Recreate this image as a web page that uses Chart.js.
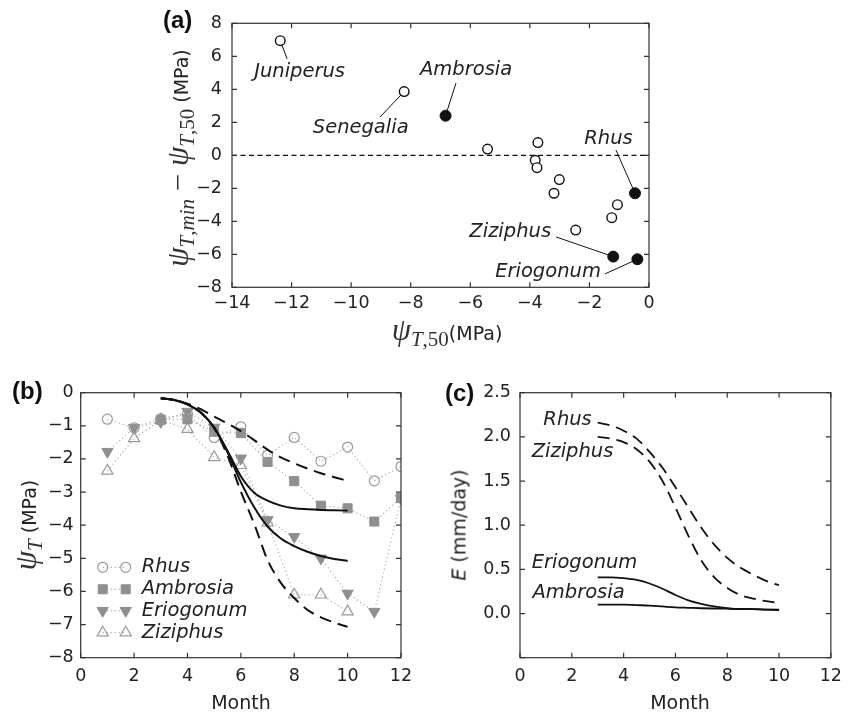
<!DOCTYPE html>
<html><head><meta charset="utf-8">
<script src="https://cdn.jsdelivr.net/npm/chart.js@4.4.1/dist/chart.umd.min.js"></script>
<style>
html,body{margin:0;padding:0;background:#fff;}
#wrap{position:relative;width:850px;height:713px;overflow:hidden;background:#fff;}
canvas{position:absolute;left:0;top:0;}
.t{position:absolute;white-space:nowrap;font-family:"DejaVu Sans";color:#222;font-size:19px;line-height:1;}
.rot{transform:translate(-50%,-50%) rotate(-90deg);}
.ctr{transform:translate(-50%,-50%);}
.m{font-family:"Liberation Serif";font-style:normal;font-size:31px;color:#333;}
.m i{font-style:italic;}
.m sub{font-size:21px;vertical-align:-0.3em;line-height:0;}
.pl{position:absolute;font-family:"Liberation Sans";font-weight:bold;font-size:24px;color:#111;line-height:1;transform:translateY(-50%);}
</style>
</head><body>
<div id="wrap">
<canvas id="ca" width="850" height="713"></canvas>
<canvas id="cb" width="850" height="713"></canvas>
<canvas id="cc" width="850" height="713"></canvas>

<div class="pl" style="left:163px;top:20px;">(a)</div>
<div class="pl" style="left:12px;top:391px;">(b)</div>
<div class="pl" style="left:445px;top:393px;">(c)</div>

<div class="t rot" style="left:177px;top:158px;"><span class="m"><i>ψ</i><sub><i>T</i>,<i>min</i></sub> − <i>ψ</i><sub><i>T</i>,50</sub></span> (MPa)</div>
<div class="t ctr" style="left:447px;top:329px;"><span class="m"><i>ψ</i><sub><i>T</i>,50</sub></span>(MPa)</div>
<div class="t rot" style="left:25px;top:525px;"><span class="m"><i>ψ</i><sub><i>T</i></sub></span> (MPa)</div>
<div class="t rot" style="left:459px;top:525px;"><i>E</i> (mm/day)</div>
<div class="t ctr" style="left:241px;top:702px;">Month</div>
<div class="t ctr" style="left:680px;top:702px;">Month</div>
</div>

<script>
// ---------------- Panel (a) data ----------------
const aOpenNames = ['Juniperus','Senegalia','','','','','','','','',''];
const aOpenX = [-12.38,-8.22,-5.42,-3.73,-3.82,-3.76,-3.01,-3.19,-1.06,-1.25,-2.46];
const aOpenY = [6.95,3.86,0.38,0.77,-0.30,-0.75,-1.47,-2.30,-2.99,-3.78,-4.53];
const aFilledNames = ['Ambrosia','Rhus','Ziziphus','Eriogonum'];
const aFilledX = [-6.83,-0.47,-1.20,-0.39];
const aFilledY = [2.40,-2.30,-6.14,-6.30];
const aXTicks = [-14,-12,-10,-8,-6,-4,-2,0];
const aYTicks = [-8,-6,-4,-2,0,2,4,6,8];

// ---------------- Panel (b) data ----------------
const months = [1,2,3,4,5,6,7,8,9,10,11,12];
const psiRhus      = [-0.80,-1.06,-0.78,-0.65,-1.35,-1.03,-1.89,-1.35,-2.07,-1.64,-2.66,-2.23];
const psiAmbrosia  = [null,null,-0.82,-0.80,-1.18,-1.22,-2.09,-2.67,-3.41,-3.49,-3.89,-3.18];
const psiEriogonum = [-1.78,-1.06,-0.88,-0.57,-1.05,-1.98,-3.84,-4.35,-5.00,-6.06,-6.61,-3.20];
const psiZiziphus  = [-2.36,-1.38,-0.82,-1.10,-1.95,-2.19,-3.92,-6.10,-6.10,-6.61,null,null];
const modelMonths = [3,3.5,4,4.5,5,5.5,6,6.5,7,7.5,8,8.5,9,9.5,10];
const psiModelRhus      = [-0.17,-0.22,-0.33,-0.50,-0.72,-0.93,-1.16,-1.43,-1.72,-1.95,-2.13,-2.29,-2.43,-2.55,-2.66];
const psiModelAmbrosia  = [-0.17,-0.22,-0.35,-0.60,-1.05,-1.75,-2.52,-3.02,-3.26,-3.41,-3.49,-3.52,-3.54,-3.55,-3.56];
const psiModelEriogonum = [-0.17,-0.22,-0.35,-0.60,-1.05,-1.80,-2.70,-3.46,-4.04,-4.40,-4.63,-4.80,-4.93,-5.02,-5.08];
const psiModelZiziphus  = [-0.17,-0.22,-0.35,-0.60,-1.07,-1.90,-2.98,-3.96,-5.05,-5.74,-6.20,-6.56,-6.78,-6.94,-7.07];
const bXTicks = [0,2,4,6,8,10,12];
const bYTicks = [-8,-7,-6,-5,-4,-3,-2,-1,0];

// ---------------- Panel (c) data ----------------
const eRhus      = [2.16,2.13,2.07,1.98,1.83,1.65,1.43,1.20,0.97,0.78,0.63,0.52,0.44,0.37,0.32];
const eZiziphus  = [2.00,1.98,1.94,1.86,1.72,1.50,1.20,0.88,0.60,0.41,0.29,0.21,0.17,0.14,0.12];
const eEriogonum = [0.41,0.41,0.40,0.38,0.34,0.28,0.21,0.15,0.11,0.08,0.06,0.05,0.05,0.045,0.045];
const eAmbrosia  = [0.10,0.10,0.10,0.095,0.09,0.08,0.07,0.065,0.06,0.057,0.055,0.052,0.05,0.045,0.04];
const cXTicks = [0,2,4,6,8,10,12];
const cYTicks = [-0.5,0,0.5,1.0,1.5,2.0,2.5];

// ---------------- helpers ----------------
const pts = (xs, ys) => xs.map((x,i)=>({x, y: ys[i]}));
const minus = v => String(v).replace('-', '\u2212');
const TICKFONT = {family:'DejaVu Sans', size:17.5};
const TICKCOL = '#222';

function axis(min, max, ticks, fit, pad, cb, isX){
  return {
    type:'linear', min, max,
    afterBuildTicks: s => { s.ticks = ticks.map(v=>({value:v})); },
    afterFit: s => { if (isX) s.height = fit; else s.width = fit; },
    grid:{display:false, drawTicks:false}, border:{display:false},
    ticks:{padding:pad, color:TICKCOL, font:TICKFONT, autoSkip:false, maxRotation:0, callback:cb}
  };
}

const framePlugin = {
  id:'frame',
  afterDraw(chart){
    const {ctx, chartArea:a, scales} = chart;
    const x = scales.x, y = scales.y, L = 5;
    ctx.save();
    ctx.strokeStyle = '#333'; ctx.lineWidth = 1.2;
    ctx.strokeRect(a.left, a.top, a.right-a.left, a.bottom-a.top);
    ctx.beginPath();
    x.ticks.forEach(t=>{ const p = x.getPixelForValue(t.value);
      ctx.moveTo(p, a.bottom); ctx.lineTo(p, a.bottom-L);
      ctx.moveTo(p, a.top); ctx.lineTo(p, a.top+L); });
    y.ticks.forEach(t=>{ const p = y.getPixelForValue(t.value);
      ctx.moveTo(a.left, p); ctx.lineTo(a.left+L, p);
      ctx.moveTo(a.right, p); ctx.lineTo(a.right-L, p); });
    ctx.stroke();
    ctx.restore();
  }
};

const LABELFONT = 'italic 19.5px "DejaVu Sans"';

// ---------------- Chart (a) ----------------
const annoA = [
  {name:'Juniperus', lx:-11.73, ly:5.05, sx:-12.15, sy:5.84},
  {name:'Senegalia', lx:-9.68, ly:1.65, sx:-9.03, sy:2.32},
  {name:'Ambrosia', lx:-6.14, ly:5.17, sx:-6.48, sy:4.38},
  {name:'Rhus', lx:-1.36, ly:0.99, sx:-1.11, sy:0.32},
  {name:'Ziziphus', lx:-4.66, ly:-4.65, sx:-3.12, sy:-4.95},
  {name:'Eriogonum', lx:-3.39, ly:-7.07, sx:-1.48, sy:-7.19}
];
function findPoint(name){
  let i = aOpenNames.indexOf(name);
  if (i >= 0) return {x:aOpenX[i], y:aOpenY[i]};
  i = aFilledNames.indexOf(name);
  return {x:aFilledX[i], y:aFilledY[i]};
}
const annoAPlugin = {
  id:'annoA',
  beforeDatasetsDraw(chart){
    const {ctx, scales:{x,y}} = chart;
    ctx.save(); ctx.strokeStyle = '#111'; ctx.lineWidth = 1;
    annoA.forEach(a=>{
      const p = findPoint(a.name);
      ctx.beginPath();
      ctx.moveTo(x.getPixelForValue(a.sx), y.getPixelForValue(a.sy));
      ctx.lineTo(x.getPixelForValue(p.x), y.getPixelForValue(p.y));
      ctx.stroke();
    });
    ctx.restore();
  },
  afterDatasetsDraw(chart){
    const {ctx, scales:{x,y}} = chart;
    ctx.save(); ctx.fillStyle = '#222'; ctx.font = LABELFONT;
    ctx.textAlign = 'center'; ctx.textBaseline = 'middle';
    annoA.forEach(a=>{ ctx.fillText(a.name, x.getPixelForValue(a.lx), y.getPixelForValue(a.ly)); });
    ctx.restore();
  }
};

new Chart(document.getElementById('ca'), {
  type:'scatter',
  data:{datasets:[
    {data: pts(aFilledX, aFilledY), pointStyle:'circle', pointRadius:5.5, backgroundColor:'#111', borderColor:'#111', pointBorderWidth:1},
    {data: pts(aOpenX, aOpenY), pointStyle:'circle', pointRadius:4.8, backgroundColor:'#fff', borderColor:'#111', pointBorderWidth:1.4},
    {data: pts([aXTicks[0], aXTicks[aXTicks.length-1]], [0,0]), showLine:true, pointRadius:0, borderColor:'#111', borderWidth:1.2, borderDash:[5,3.5]}
  ]},
  options:{
    responsive:false, animation:false, events:[],
    layout:{padding:{left:182, right:201, top:23.3, bottom:385.7}},
    plugins:{legend:{display:false}, tooltip:{enabled:false}},
    scales:{
      x: axis(-14, 0, aXTicks, 40, 6, v=>minus(v), true),
      y: axis(-8, 8, aYTicks, 50, 10, v=>minus(v), false)
    }
  },
  plugins:[framePlugin, annoAPlugin]
});

// ---------------- Chart (b) ----------------
const GRAY = '#8f8f8f', LGRAY = '#9a9a9a', DOT = '#aaaaaa';
const obs = (ys, extra) => Object.assign({
  data: pts(months, ys), showLine:true, borderColor:DOT, borderWidth:1.2, borderDash:[1.2,2.8], spanGaps:false
}, extra);
const model = (ys, dash) => ({
  data: pts(modelMonths, ys), showLine:true, pointRadius:0, borderColor:'#111', borderWidth:2,
  borderDash: dash ? [12,7] : [], cubicInterpolationMode:'monotone'
});
const bDatasets = [
  model(psiModelRhus, true),
  model(psiModelZiziphus, true),
  model(psiModelAmbrosia, false),
  model(psiModelEriogonum, false),
  obs(psiRhus, {label:'Rhus', pointStyle:'circle', pointRadius:5, pointBackgroundColor:'rgba(0,0,0,0)', pointBorderColor:LGRAY, pointBorderWidth:1.2}),
  obs(psiAmbrosia, {label:'Ambrosia', pointStyle:'rect', pointRadius:6.4, pointRotation:0, pointBackgroundColor:GRAY, pointBorderColor:GRAY, pointBorderWidth:1}),
  obs(psiEriogonum, {label:'Eriogonum', pointStyle:'triangle', pointRotation:180, pointRadius:6.5, pointBackgroundColor:GRAY, pointBorderColor:GRAY, pointBorderWidth:1}),
  obs(psiZiziphus, {label:'Ziziphus', pointStyle:'triangle', pointRotation:0, pointRadius:6.5, pointBackgroundColor:'rgba(0,0,0,0)', pointBorderColor:LGRAY, pointBorderWidth:1.2})
];
const legendBPlugin = {
  id:'legendB',
  afterDraw(chart){
    const {ctx, chartArea:a} = chart;
    const rowsY = [174.6, 196.6, 218, 240];
    ctx.save();
    [4,5,6,7].forEach((di,k)=>{
      const ds = chart.data.datasets[di];
      const y = a.top + rowsY[k], x1 = a.left + 22, x2 = a.left + 45;
      ctx.strokeStyle = DOT; ctx.lineWidth = 1.2; ctx.setLineDash([1.2,2.8]);
      ctx.beginPath(); ctx.moveTo(x1, y); ctx.lineTo(x2, y); ctx.stroke();
      ctx.setLineDash([]);
      [x1,x2].forEach(px=>{
        ctx.fillStyle = ds.pointBackgroundColor; ctx.strokeStyle = ds.pointBorderColor; ctx.lineWidth = ds.pointBorderWidth;
        Chart.helpers.drawPoint(ctx, {pointStyle:ds.pointStyle, radius:ds.pointRadius, rotation:ds.pointRotation||0, borderWidth:ds.pointBorderWidth}, px, y);
      });
      ctx.fillStyle = '#222'; ctx.font = LABELFONT; ctx.textAlign = 'left'; ctx.textBaseline = 'middle';
      ctx.fillText(ds.label, a.left + 61, y);
    });
    ctx.restore();
  }
};
new Chart(document.getElementById('cb'), {
  type:'scatter',
  data:{datasets:bDatasets},
  options:{
    responsive:false, animation:false, events:[],
    layout:{padding:{left:30.7, right:449, top:392.7, bottom:15.3}},
    plugins:{legend:{display:false}, tooltip:{enabled:false}},
    scales:{
      x: axis(0, 12, bXTicks, 40, 8, v=>minus(v), true),
      y: axis(-8, 0, bYTicks, 50, 7, v=>minus(v), false)
    }
  },
  plugins:[framePlugin, legendBPlugin]
});

// ---------------- Chart (c) ----------------
const cLine = (ys, dash) => ({
  data: pts(modelMonths, ys), showLine:true, pointRadius:0, borderColor:'#111', borderWidth:1.8,
  borderDash: dash ? [12,7] : [], cubicInterpolationMode:'monotone'
});
const annoC = [
  {text:'Rhus', x:2.77, y:2.19, align:'right'},
  {text:'Ziziphus', x:0.45, y:1.83, align:'left'},
  {text:'Eriogonum', x:0.45, y:0.57, align:'left'},
  {text:'Ambrosia', x:0.48, y:0.23, align:'left'}
];
const annoCPlugin = {
  id:'annoC',
  afterDatasetsDraw(chart){
    const {ctx, scales:{x,y}} = chart;
    ctx.save(); ctx.fillStyle = '#222'; ctx.font = LABELFONT; ctx.textBaseline = 'middle';
    annoC.forEach(a=>{ ctx.textAlign = a.align; ctx.fillText(a.text, x.getPixelForValue(a.x), y.getPixelForValue(a.y)); });
    ctx.restore();
  }
};
new Chart(document.getElementById('cc'), {
  type:'scatter',
  data:{datasets:[cLine(eRhus,true), cLine(eZiziphus,true), cLine(eEriogonum,false), cLine(eAmbrosia,false)]},
  options:{
    responsive:false, animation:false, events:[],
    layout:{padding:{left:470, right:9, top:392.7, bottom:15.3}},
    plugins:{legend:{display:false}, tooltip:{enabled:false}},
    scales:{
      x: axis(0, 12, cXTicks, 40, 8, v=>minus(v), true),
      y: axis(-0.5, 2.5, cYTicks, 50, 9, v=> Math.abs(v+0.5)<1e-9 ? '' : v.toFixed(1), false)
    }
  },
  plugins:[framePlugin, annoCPlugin]
});
</script>
</body></html>
